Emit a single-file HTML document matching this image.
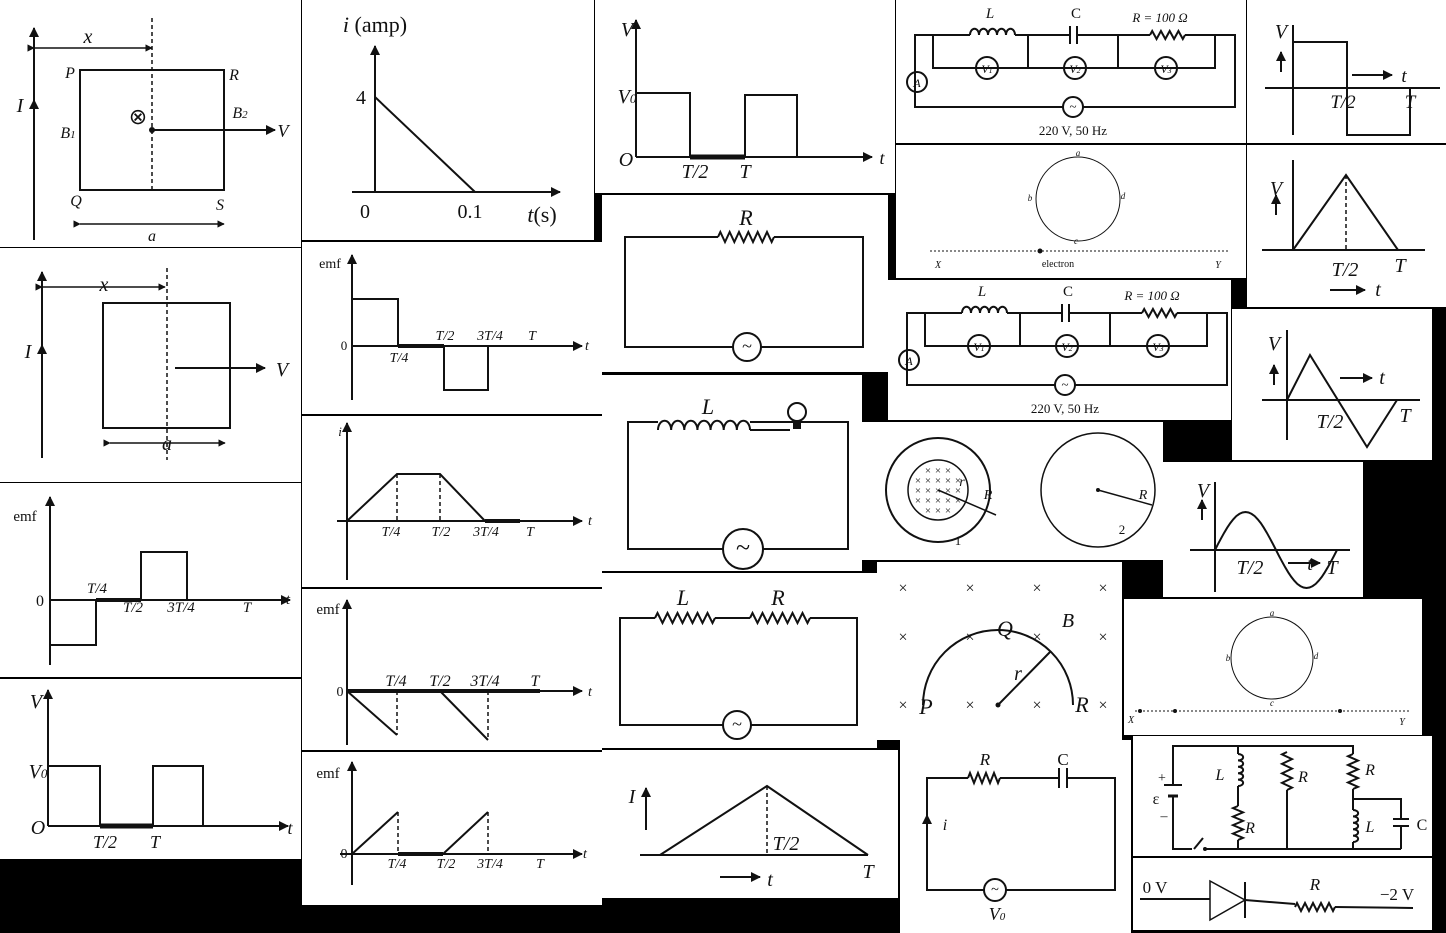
<!DOCTYPE html>
<html><head><meta charset="utf-8"><style>
html,body{margin:0;padding:0;background:#000;}
svg{display:block}
text{font-family:"Liberation Serif",serif;fill:#111}
</style></head><body>
<svg id="s" width="1446" height="933" viewBox="0 0 1446 933" xmlns="http://www.w3.org/2000/svg">
<defs><marker id="ah" viewBox="0 0 10 10" refX="9" refY="5" markerWidth="5" markerHeight="5" orient="auto"><path d="M0,0L10,5L0,10z" fill="#111"/></marker></defs>
<rect width="1446" height="933" fill="#000"/>
</svg>
<script>
const svg=document.getElementById('s');
const panels=[[0,0,301,247],[0,248,301,234],[0,483,301,194],[0,679,301,180],
[302,0,292,240],[302,242,300,172],[302,416,300,171],[302,589,300,161],[302,752,300,153],
[595,0,300,193],[602,195,286,177],[602,375,260,196],[602,573,275,175],[602,750,296,148],
[896,0,350,143],[896,145,350,133],[888,280,343,140],[862,422,301,138],[877,562,245,178],[900,740,231,193],
[1247,0,199,143],[1247,145,199,162],[1232,309,200,151],[1163,462,200,135],[1124,599,298,136],[1133,736,299,120],[1133,858,299,72]];
const S='stroke="#111" stroke-width="2" fill="none"';
function L(a,b,c,d,w){return `<line x1="${a}" y1="${b}" x2="${c}" y2="${d}" stroke="#111" stroke-width="${w||2}"/>`;}
function D(a,b,c,d){return `<line x1="${a}" y1="${b}" x2="${c}" y2="${d}" stroke="#111" stroke-width="1.5" stroke-dasharray="4,3"/>`;}
function A(a,b,c,d){return `<line x1="${a}" y1="${b}" x2="${c}" y2="${d}" stroke="#111" stroke-width="2" marker-end="url(#ah)"/>`;}
function A2(a,b,c,d){return `<line x1="${a}" y1="${b}" x2="${c}" y2="${d}" stroke="#111" stroke-width="1.5" marker-end="url(#ah)" marker-start="url(#ah)"/>`;}
function T(x,y,t,sz,it){return `<text x="${x}" y="${y}" font-size="${sz||20}" ${it===false?'':'font-style="italic"'} text-anchor="middle">${t}</text>`;}
function P(pts,extra){return `<polyline points="${pts}" ${S} ${extra||''}/>`;}
function C(x,y,r){return `<circle cx="${x}" cy="${y}" r="${r}" ${S} fill="#fff"/>`;}
function zig(x1,x2,y,n,a){n=n||6;a=a||5;let p=[];const d=(x2-x1)/(2*n);p.push(x1+','+y);for(let i=0;i<2*n;i++){p.push((x1+d*(i+0.5))+','+(y+(i%2?a:-a)));}p.push(x2+','+y);return P(p.join(' '));}
function zigV(x,y1,y2,n,a){n=n||5;a=a||5;let p=[];const d=(y2-y1)/(2*n);p.push(x+','+y1);for(let i=0;i<2*n;i++){p.push((x+(i%2?a:-a))+','+(y1+d*(i+0.5)));}p.push(x+','+y2);return P(p.join(' '));}
function coil(x1,x2,y,n){const w=(x2-x1)/n;let d=`M${x1},${y}`;for(let i=0;i<n;i++)d+=` a${w/2},${w*0.7} 0 1 1 ${w},0`;return `<path d="${d}" ${S}/>`;}
function coilV(x,y1,y2,n){const w=(y2-y1)/n;let d=`M${x},${y1}`;for(let i=0;i<n;i++)d+=` a${w*0.8},${w/2} 0 1 1 0,${w}`;return `<path d="${d}" ${S}/>`;}
function ac(x,y,r){return C(x,y,r)+`<text x="${x}" y="${y+r*0.35}" font-size="${r*1.3}" text-anchor="middle">~</text>`;}
let h='';
panels.forEach((p,i)=>{h+=`<rect x="${p[0]}" y="${p[1]}" width="${p[2]}" height="${p[3]}" fill="#fff"/>`;});
function G(name,body){h+=`<g>${body}</g>`;}
// P1
G('loop-near-wire-1',L(34,240,34,48)+A(34,60,34,28)+A(34,115,34,100)+T(20,112,'I')+D(152,18,152,190)+A2(34,48,152,48)+T(88,43,'x')+
`<rect x="80" y="70" width="144" height="120" ${S}/>`+T(70,78,'P',16)+T(234,80,'R',16)+T(76,206,'Q',16)+T(220,210,'S',16)+T(68,138,'B<tspan font-size="11">1</tspan>',16)+T(240,118,'B<tspan font-size="11">2</tspan>',16)+
T(138,124,'⊗',22,false)+`<circle cx="152" cy="130" r="3" fill="#111"/>`+A(152,130,275,130)+T(283,137,'V',18)+A2(80,224,224,224)+T(152,241,'a',16));
// P2
G('loop-near-wire-2',L(42,458,42,290)+A(42,300,42,272)+A(42,360,42,345)+T(28,358,'I')+A2(42,287,165,287)+T(104,291,'x')+D(167,268,167,460)+
`<rect x="103" y="303" width="127" height="125" ${S}/>`+A(175,368,265,368)+T(282,376,'V')+A2(110,443,225,443)+T(167,450,'a'));
// P3
G('emf-graph-1',L(50,665,50,505)+A(50,520,50,497)+A(50,600,290,600)+T(25,521,'emf',15,false)+T(40,606,'0',16,false)+
P('50,600 50,645 96,645 96,600')+P('141,600 141,552 187,552 187,600')+L(96,600,141,600,4)+T(97,593,'T/4',15)+T(133,612,'T/2',15)+T(181,612,'3T/4',15)+T(247,612,'T',15)+T(288,604,'t',15));
// P4
G('square-wave-v-1',L(48,826,48,700)+A(48,710,48,690)+A(48,826,288,826)+T(36,708,'V')+T(38,778,'V<tspan font-size="13">0</tspan>')+T(38,834,'O')+
P('48,766 100,766 100,826')+L(100,826,153,826,5)+P('153,826 153,766 203,766 203,826')+T(105,848,'T/2',18)+T(155,848,'T',18)+T(290,834,'t',18));
// P5
G('current-graph',L(375,192,375,60)+A(375,70,375,46)+A(352,192,560,192)+T(375,32,'i <tspan font-style="normal">(amp)</tspan>',22)+T(361,104,'4',20,false)+
L(375,97,475,192)+T(365,218,'0',20,false)+T(470,218,'0.1',20,false)+T(542,222,'t<tspan font-style="normal">(s)</tspan>',22));
// P6
G('emf-graph-2',L(352,400,352,265)+A(352,275,352,255)+A(352,346,582,346)+T(330,268,'emf',14,false)+T(344,350,'0',13,false)+
P('352,299 398,299 398,346')+L(398,346,444,346,4)+P('444,346 444,390 488,390 488,346')+T(399,362,'T/4',14)+T(445,340,'T/2',14)+T(490,340,'3T/4',14)+T(532,340,'T',14)+T(587,350,'t',14));
// P7
G('current-trapezoid-graph',L(347,580,347,433)+A(347,443,347,423)+A(337,521,582,521)+T(340,436,'i',13)+
P('347,521 397,474 440,474 485,521')+D(397,474,397,521)+D(440,474,440,521)+L(485,521,520,521,4)+T(391,536,'T/4',14)+T(441,536,'T/2',14)+T(486,536,'3T/4',14)+T(530,536,'T',14)+T(590,525,'t',14));
// P8
G('emf-graph-3',L(347,745,347,612)+A(347,620,347,600)+A(347,691,582,691)+T(328,614,'emf',15,false)+T(340,696,'0',14,false)+
P('347,691 397,735')+D(397,691,397,735)+P('440,691 488,740')+D(488,691,488,740)+L(347,691,540,691,4)+T(396,686,'T/4',16)+T(440,686,'T/2',16)+T(485,686,'3T/4',16)+T(535,686,'T',16)+T(590,696,'t',14));
// P9
G('emf-graph-4',L(352,885,352,775)+A(352,782,352,762)+A(340,854,582,854)+T(328,778,'emf',15,false)+T(344,858,'0',14,false)+
P('352,854 398,812')+D(398,812,398,854)+P('443,854 488,812')+D(488,812,488,854)+L(398,854,443,854,4)+T(397,868,'T/4',14)+T(446,868,'T/2',14)+T(490,868,'3T/4',14)+T(540,868,'T',14)+T(585,858,'t',14));
// P10
G('square-wave-v-2',L(636,157,636,35)+A(636,45,636,20)+A(636,157,872,157)+T(627,36,'V')+T(627,103,'V<tspan font-size="13">0</tspan>')+T(626,166,'O')+
P('636,93 690,93 690,157')+L(690,157,745,157,5)+P('745,157 745,95 797,95 797,157')+T(695,178,'T/2',20)+T(745,178,'T',20)+T(882,164,'t',18));
// P11
G('rc-circuit-r',`<polyline points="718,237 625,237 625,347 733,347" ${S}/><polyline points="774,237 863,237 863,347 761,347" ${S}/>`+zig(718,774,237)+T(746,225,'R',22)+ac(747,347,14));
// P12
G('lamp-inductor-circuit',`<polyline points="658,422 628,422 628,549 723,549" ${S}/><polyline points="750,422 848,422 848,549 763,549" ${S}/>`+coil(658,750,430,7)+L(750,430,790,430)+
`<circle cx="797" cy="412" r="9" ${S} fill="#ddd"/>`+`<rect x="793" y="420" width="8" height="9" fill="#111"/>`+L(805,422,848,422)+T(708,414,'L',22)+ac(743,549,20));
// P13
G('lr-circuit',`<polyline points="655,618 620,618 620,725 723,725" ${S}/>`+L(715,618,750,618)+`<polyline points="810,618 857,618 857,725 751,725" ${S}/>`+zig(655,715,618)+zig(750,810,618)+T(683,605,'L',22)+T(778,605,'R',22)+ac(737,725,14));
// P14
G('triangle-current-graph',A(646,830,646,788)+T(632,803,'I')+L(640,855,868,855)+P('660,855 767,786 868,855')+D(767,786,767,855)+T(786,850,'T/2',20)+T(868,878,'T',20)+A(720,877,760,877)+T(770,886,'t',20));
// P15 & P17 circuits
function lcr(){return `<polyline points="970,35 915,35 915,107 1063,107" ${S}/><polyline points="1083,107 1235,107 1235,35 1185,35" ${S}/>`+coil(970,1015,35,5)+L(1015,35,1070,35)+L(1070,26,1070,44)+L(1077,26,1077,44)+L(1077,35,1150,35)+zig(1150,1185,35,4,4)+
`<polyline points="933,35 933,68 1215,68 1215,35" ${S}/>`+L(1028,35,1028,68)+L(1118,35,1118,68)+C(987,68,11)+C(1075,68,11)+C(1166,68,11)+
T(987,73,'V<tspan font-size="8">1</tspan>',12)+T(1075,73,'V<tspan font-size="8">2</tspan>',12)+T(1166,73,'V<tspan font-size="8">3</tspan>',12)+C(917,82,10)+T(917,87,'A',12)+ac(1073,107,10)+
T(1073,135,'220 V, 50 Hz',13,false)+T(990,18,'L',15)+T(1076,18,'C',15,false)+T(1160,22,'R = 100 Ω',13);}
G('lcr-circuit-1',lcr());
G('lcr-circuit-2',`<g transform="translate(-8,278)">${lcr()}</g>`);
// P16
G('circle-electron-1',`<circle cx="1078" cy="199" r="42" stroke="#111" stroke-width="1" fill="none"/>`+T(1078,156,'a',9)+T(1030,201,'b',9)+T(1123,199,'d',9)+T(1076,244,'c',9)+
`<line x1="930" y1="251" x2="1230" y2="251" stroke="#111" stroke-width="1" stroke-dasharray="2,2"/><circle cx="1040" cy="251" r="2.5" fill="#111"/>`+T(938,268,'X',10)+T(1058,267,'electron',10,false)+T(1218,268,'Y',10));
// P18
let xs='';for(let i=-2;i<=2;i++)for(let j=-2;j<=2;j++)if(i*i+j*j<=6)xs+=T(938+i*10,494+j*10,'×',11,false);
G('magnetic-field-circles',`<circle cx="938" cy="490" r="52" ${S}/><circle cx="938" cy="490" r="30" stroke="#111" stroke-width="1.5" fill="#fff"/>`+xs+L(938,490,996,515,1.5)+T(962,486,'r',14)+T(988,499,'R',14)+T(958,545,'1',13,false)+
`<circle cx="1098" cy="490" r="57" stroke="#111" stroke-width="1.5" fill="none"/><circle cx="1098" cy="490" r="2" fill="#111"/>`+L(1098,490,1152,505,1.5)+T(1143,499,'R',14)+T(1122,534,'2',13,false));
// P19
let x2='';[[903,593],[970,593],[1037,593],[1103,593],[903,642],[970,642],[1037,642],[1103,642],[903,710],[970,710],[1037,710],[1103,710]].forEach(q=>x2+=T(q[0],q[1],'×',16,false));
G('semicircle-field',x2+`<path d="M923,705 A75,75 0 0 1 1073,705" ${S}/>`+`<circle cx="998" cy="705" r="2.5" fill="#111"/>`+L(998,705,1050,652)+T(1005,636,'Q',22)+T(1068,627,'B',20)+T(1018,680,'r',20)+T(926,714,'P',22)+T(1082,712,'R',22));
// P20
G('rc-ac-circuit',`<polyline points="968,778 927,778 927,890 984,890" ${S}/><polyline points="1000,778 1059,778" ${S}/><polyline points="1067,778 1115,778 1115,890 1006,890" ${S}/>`+zig(968,1000,778,4,5)+L(1059,768,1059,788)+L(1067,768,1067,788)+T(985,765,'R',17)+T(1063,765,'C',17,false)+ac(995,890,11)+T(997,920,'V<tspan font-size="11">0</tspan>',18)+A(927,835,927,815)+T(945,830,'i',16));
// P21
G('square-wave-v-3',L(1293,135,1293,25)+A(1281,72,1281,52)+T(1281,38,'V')+L(1265,88,1440,88)+P('1293,42 1347,42 1347,135 1410,135 1410,88')+T(1343,108,'T/2',19)+T(1410,108,'T',19)+A(1352,75,1392,75)+T(1404,82,'t',19));
// P22
G('triangle-wave-v-1',L(1293,250,1293,160)+A(1276,215,1276,195)+T(1276,195,'V')+L(1262,250,1425,250)+P('1293,250 1346,175 1398,250')+D(1346,175,1346,250)+T(1345,276,'T/2',20)+T(1400,272,'T',20)+A(1330,290,1365,290)+T(1378,296,'t',20));
// P23
G('triangle-wave-v-2',L(1287,440,1287,330)+A(1274,385,1274,365)+T(1274,350,'V')+L(1262,400,1420,400)+P('1287,400 1310,355 1367,447 1397,400')+T(1330,428,'T/2',20)+T(1405,422,'T',20)+A(1340,378,1372,378)+T(1382,384,'t',20));
// P24
let sp=[];for(let k=0;k<=40;k++){const x=1215+k*3.05;sp.push(x.toFixed(1)+','+(550-38*Math.sin(Math.PI*k/20)).toFixed(1));}
G('sine-wave-v',L(1215,592,1215,482)+A(1202,520,1202,500)+T(1203,497,'V')+L(1190,550,1350,550)+P(sp.join(' '))+T(1250,574,'T/2',20)+T(1332,574,'T',20)+A(1288,563,1320,563)+T(1310,570,'t',20));
// P25
G('circle-electron-2',`<circle cx="1272" cy="658" r="41" stroke="#111" stroke-width="1" fill="none"/>`+T(1272,616,'a',9)+T(1228,661,'b',9)+T(1316,659,'d',9)+T(1272,706,'c',9)+
`<line x1="1135" y1="711" x2="1410" y2="711" stroke="#111" stroke-width="1" stroke-dasharray="2,2"/><circle cx="1140" cy="711" r="2" fill="#111"/><circle cx="1175" cy="711" r="2" fill="#111"/><circle cx="1340" cy="711" r="2" fill="#111"/>`+T(1131,723,'X',10)+T(1402,725,'Y',10));
// P26
G('multi-branch-circuit',`<polyline points="1173,785 1173,746 1353,746 1353,754" ${S}/><polyline points="1173,796 1173,849 1192,849" ${S}/>`+L(1164,785,1182,785)+L(1168,796,1178,796,3)+T(1162,782,'+',14,false)+T(1156,804,'ε',16,false)+T(1164,820,'–',14,false)+
L(1194,849,1203,838)+`<circle cx="1205" cy="849" r="2" fill="#111"/>`+L(1205,849,1401,849)+
L(1238,746,1238,754)+coilV(1238,754,786,5)+L(1238,786,1238,806)+zigV(1238,806,840,4,5)+L(1238,840,1238,849)+T(1220,780,'L',16)+T(1250,833,'R',16)+
zigV(1287,752,790,4,5)+L(1287,790,1287,849)+T(1303,782,'R',16)+
zigV(1353,754,789,4,5)+`<polyline points="1353,789 1353,799 1401,799 1401,819" ${S}/>`+L(1353,799,1353,810)+coilV(1353,810,842,5)+L(1353,842,1353,849)+L(1393,819,1409,819)+L(1393,826,1409,826)+L(1401,826,1401,849)+T(1370,775,'R',16)+T(1370,832,'L',16)+T(1422,830,'C',16,false));
// P27
G('diode-circuit',L(1140,899,1210,899)+`<polygon points="1210,881 1210,920 1245,900" stroke="#111" stroke-width="1.5" fill="#fff"/>`+L(1245,882,1245,918)+L(1245,900,1295,904)+zig(1295,1335,907,5,4)+L(1335,907,1413,908)+
T(1155,893,'0 V',17,false)+T(1315,890,'R',17)+T(1397,900,'−2 V',17,false));
svg.insertAdjacentHTML('beforeend',h);
</script>
</body></html>
